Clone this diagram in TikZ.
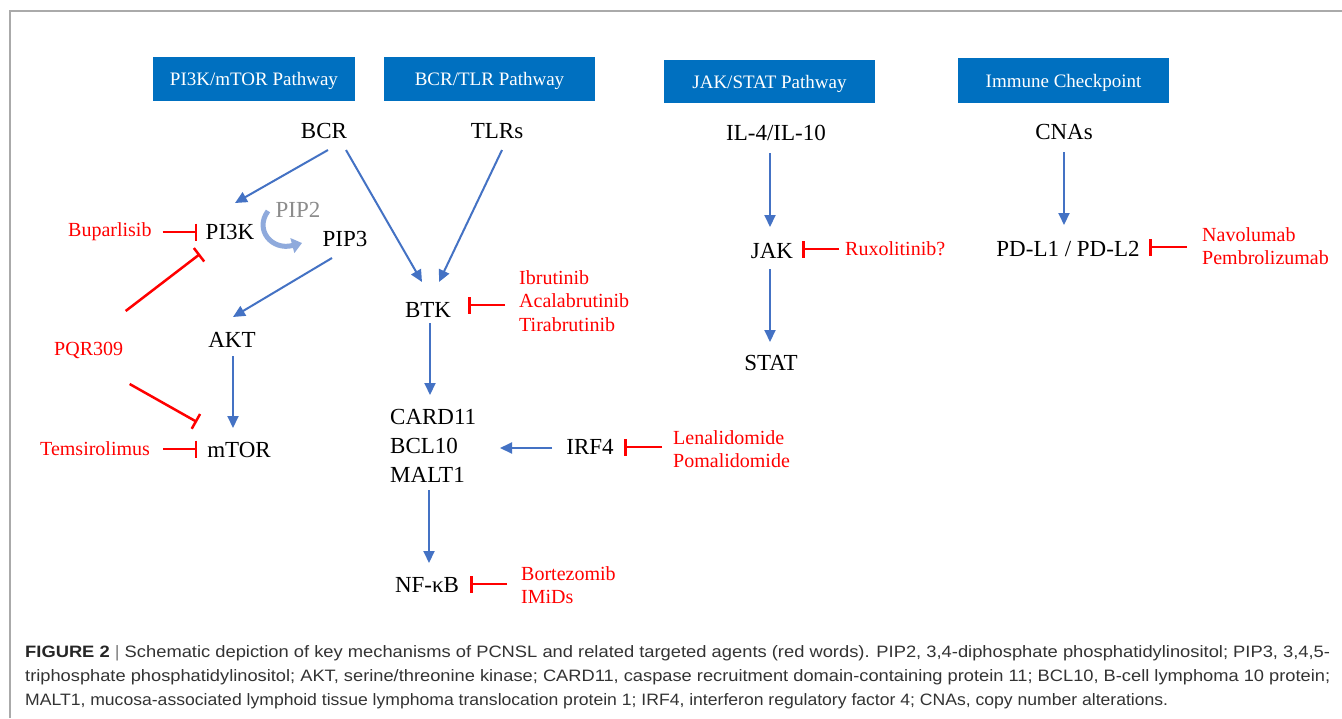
\documentclass[tikz,border=0pt]{standalone}
\usepackage{fontspec}
\usepackage{graphicx}
\setmainfont{Liberation Serif}
\newfontfamily\capfont{Liberation Sans}
\usetikzlibrary{arrows.meta,calc}
\definecolor{boxblue}{HTML}{0070C0}
\definecolor{arrblue}{HTML}{4472C4}
\definecolor{pipblue}{HTML}{8FAADC}
\definecolor{capgray}{HTML}{333333}
\definecolor{framegray}{HTML}{AAAAAA}
\definecolor{pipgray}{HTML}{8C8C8C}
\begin{document}
\begin{tikzpicture}[x=1pt,y=-1pt,
  hdr/.style={fill=boxblue, text=white, font=\fontsize{19}{22}\selectfont, minimum width=211, minimum height=44, inner sep=0, text depth=0pt},
  gene/.style={font=\fontsize{23}{27}\selectfont, inner sep=0},
  drug/.style={text=red, font=\fontsize{20}{23.5}\selectfont, inner sep=0, align=left, anchor=west},
  act/.style={draw=arrblue, line width=2, -{Triangle[length=12,width=11]}},
  inh/.style={draw=red, line width=2.5, -{Bar[width=17]}},
  capline/.style={anchor=base west, inner sep=0, text=capgray, font=\capfont\fontsize{16.5}{20}\selectfont}]
\useasboundingbox (0,0) rectangle (1342,718);
\fill[white] (0,0) rectangle (1342,718);
\draw[framegray, line width=2] (10,718) -- (10,11) -- (1342,11);

% headers
\node[hdr, minimum width=202] (h1) at (254,79) {PI3K/mTOR Pathway};
\node[hdr] (h2) at (489.5,78.5) {BCR/TLR Pathway};
\node[hdr, minimum height=43] (h3) at (769.5,81.5) {JAK/STAT Pathway};
\node[hdr, minimum height=45] (h4) at (1063.5,80.5) {Immune Checkpoint};

% genes
\node[gene] (bcr) at (324,131) {BCR};
\node[gene] (tlr) at (497,131) {TLRs};
\node[gene] (il) at (776,133) {IL-4/IL-10};
\node[gene] (cna) at (1064,132) {CNAs};
\node[gene] (pi3k) at (230,232) {PI3K};
\node[gene, text=pipgray] (pip2) at (298,210) {PIP2};
\node[gene] (pip3) at (345,239) {PIP3};
\node[gene] (akt) at (232,340) {AKT};
\node[gene] (mtor) at (239,450) {mTOR};
\node[gene] (btk) at (428,310) {BTK};
\node[gene, font=\fontsize{23}{29}\selectfont, align=left, anchor=west] (card) at (390,446) {CARD11\\BCL10\\MALT1};
\node[gene] (irf4) at (590,447) {IRF4};
\node[gene] (nfkb) at (427,585) {NF-κB};
\node[gene] (jak) at (772,251) {JAK};
\node[gene] (stat) at (771,363) {STAT};
\node[gene] (pdl) at (1068,249) {PD-L1 / PD-L2};

% drugs
\node[drug] (bup) at (68,232) {Buparlisib};
\node[drug] (pqr) at (54,350) {PQR309};
\node[drug] (tem) at (40,449) {Temsirolimus};
\node[drug] (btkd) at (519,301) {Ibrutinib\\Acalabrutinib\\Tirabrutinib};
\node[drug] (irfd) at (673,449) {Lenalidomide\\Pomalidomide};
\node[drug] (nfd) at (521,585) {Bortezomib\\IMiDs};
\node[drug] (rux) at (845,249) {Ruxolitinib?};
\node[drug] (pdd) at (1202,246) {Navolumab\\Pembrolizumab};

% activation arrows
\draw[act] ($(bcr)+(4,19)$) -- ($(pi3k)+(5,-29)$);
\draw[act] ($(bcr)+(22,19)$) -- ($(btk)+(-6,-28)$);
\draw[act] ($(tlr)+(5,19)$) -- ($(btk)+(11,-28)$);
\draw[act] ($(pip3)+(-13,19)$) -- ($(akt)+(1,-23)$);
\draw[act] ($(akt)+(1,16)$) -- ($(mtor)+(-6,-22)$);
\draw[act] ($(btk)+(2,13)$) -- ($(card.west)+(40,-51)$);
\draw[act] ($(irf4)+(-38,1)$) -- ($(card.west)+(110,2)$);
\draw[act] ($(card.west)+(39,44)$) -- ($(nfkb)+(2,-22)$);
\draw[act] ($(il)+(-6,20)$) -- ($(jak)+(-2,-24)$);
\draw[act] ($(jak)+(-2,18)$) -- ($(stat)+(-1,-21)$);
\draw[act] ($(cna)+(0,20)$) -- ($(pdl)+(-4,-24)$);

% PIP2 -> PIP3 conversion
\draw[pipblue, line width=5, -{Triangle[length=10,width=15]}]
  ($(pip2)+(-30,1)$) .. controls ($(pip2)+(-44,20)$) and ($(pip2)+(-26,41)$) .. ($(pip2)+(4,33)$);

% inhibitions
\draw[inh] ($(bup.east)+(11,0)$) -- ($(pi3k)+(-33,0)$);
\draw[inh] ($(pqr)+(37,-39)$) -- ($(pi3k)+(-30,22)$);
\draw[inh] ($(pqr)+(41,34)$) -- ($(mtor)+(-42,-28)$);
\draw[inh] ($(tem.east)+(13,0)$) -- ($(mtor)+(-42,-1)$);
\draw[inh] ($(btkd.west)+(-14,4)$) -- ($(btk)+(40,-5)$);
\draw[inh] ($(irfd.west)+(-11,-2)$) -- ($(irf4)+(34,0)$);
\draw[inh] ($(nfd.west)+(-14,-1)$) -- ($(nfkb)+(43,-1)$);
\draw[inh] ($(rux.west)+(-6,0)$) -- ($(jak)+(30,-2)$);
\draw[inh] ($(pdd.west)+(-15,1)$) -- ($(pdl)+(81,-2)$);

% caption
\node[capline] (c1) at (25,657) {\resizebox{1305pt}{\height}{\textbf{\color{black!85}FIGURE 2} {\color{gray}|} Schematic depiction of key mechanisms of PCNSL and related targeted agents (red words). PIP2, 3,4-diphosphate phosphatidylinositol; PIP3, 3,4,5-}};
\node[capline] (c2) at (25,681) {\resizebox{1305pt}{\height}{triphosphate phosphatidylinositol; AKT, serine/threonine kinase; CARD11, caspase recruitment domain-containing protein 11; BCL10, B-cell lymphoma 10 protein;}};
\node[capline] (c3) at (25,705) {\resizebox{1143pt}{\height}{MALT1, mucosa-associated lymphoid tissue lymphoma translocation protein 1; IRF4, interferon regulatory factor 4; CNAs, copy number alterations.}};
\end{tikzpicture}
\end{document}
